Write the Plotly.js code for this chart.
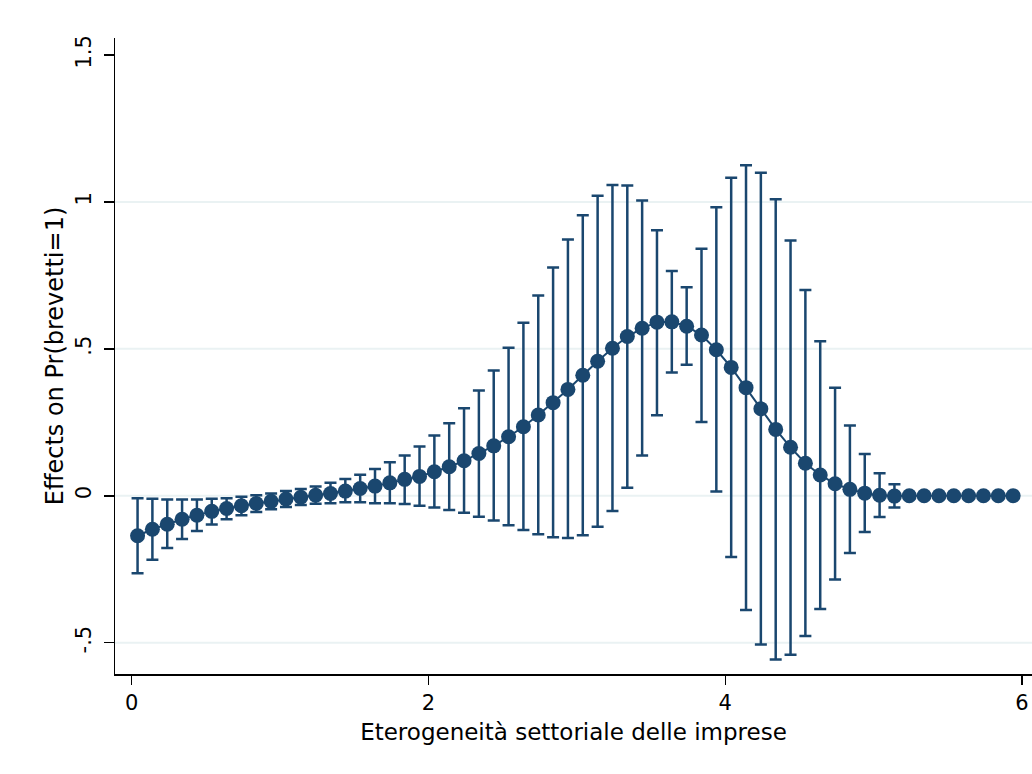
<!DOCTYPE html>
<html>
<head>
<meta charset="utf-8">
<script src="https://cdn.plot.ly/plotly-3.0.1.min.js"></script>
<style>html,body{margin:0;padding:0;background:#fff;}#chart{width:1032px;height:774px;}</style>
</head>
<body>
<div id="chart"></div>
<script>
// x positions (Eterogeneità settoriale delle imprese)
const xVals = [0.04,0.14,0.24,0.34,0.44,0.54,0.64,0.74,0.84,0.94,
               1.04,1.14,1.24,1.34,1.44,1.54,1.64,1.74,1.84,1.94,
               2.04,2.14,2.24,2.34,2.44,2.54,2.64,2.74,2.84,2.94,
               3.04,3.14,3.24,3.34,3.44,3.54,3.64,3.74,3.84,3.94,
               4.04,4.14,4.24,4.34,4.44,4.54,4.64,4.74,4.84,4.94,
               5.04,5.14,5.24,5.34,5.44,5.54,5.64,5.74,5.84,5.94];
// point estimates: Effects on Pr(brevetti=1)
const effects = [-0.136,-0.114,-0.097,-0.080,-0.066,-0.053,-0.043,-0.034,-0.026,-0.019,
                 -0.011,-0.005,0.002,0.008,0.016,0.025,0.033,0.044,0.056,0.066,
                 0.082,0.099,0.119,0.144,0.170,0.201,0.235,0.275,0.317,0.362,
                 0.410,0.458,0.502,0.542,0.570,0.591,0.592,0.577,0.547,0.497,
                 0.437,0.368,0.296,0.226,0.165,0.111,0.071,0.041,0.022,0.009,
                 0.002,-0.001,0.000,0.000,0.000,0.000,0.000,0.000,0.000,0.000];
// confidence interval bounds
const ciLow = [-0.264,-0.218,-0.178,-0.147,-0.120,-0.098,-0.080,-0.066,-0.055,-0.046,
               -0.038,-0.031,-0.027,-0.025,-0.022,-0.022,-0.025,-0.025,-0.028,-0.034,
               -0.040,-0.048,-0.058,-0.071,-0.084,-0.100,-0.116,-0.131,-0.141,-0.144,
               -0.134,-0.105,-0.052,0.027,0.137,0.274,0.420,0.446,0.251,0.015,
               -0.208,-0.389,-0.506,-0.557,-0.541,-0.477,-0.385,-0.285,-0.195,-0.123,
               -0.072,-0.040,-0.008,0.000,0.000,0.000,0.000,0.000,0.000,0.000];
const ciHigh = [-0.008,-0.010,-0.013,-0.013,-0.013,-0.010,-0.008,-0.003,0.002,0.008,
                0.016,0.023,0.032,0.044,0.057,0.072,0.091,0.114,0.137,0.168,
                0.205,0.247,0.298,0.358,0.426,0.504,0.589,0.682,0.777,0.872,
                0.955,1.021,1.058,1.056,1.005,0.904,0.765,0.710,0.841,0.982,
                1.082,1.125,1.099,1.009,0.869,0.700,0.526,0.368,0.239,0.142,
                0.077,0.039,0.008,0.000,0.000,0.000,0.000,0.000,0.000,0.000];
// axis ticks
const xTickVals = [0, 2, 4, 6];
const xTickText = ['0', '2', '4', '6'];
const yTickVals = [-0.5, 0, 0.5, 1, 1.5];
const yTickText = ['-.5', '0', '.5', '1', '1.5'];
const yGridVals = [-0.5, 0, 0.5, 1];

const navy = '#1a476f';
const FONT = 'DejaVu Sans, Liberation Sans, Arial, sans-serif';

const trace = {
  type: 'scatter',
  mode: 'lines+markers',
  x: xVals,
  y: effects,
  line: {color: navy, width: 2},
  marker: {color: navy, size: 15},
  error_y: {
    type: 'data',
    symmetric: false,
    array: effects.map((v, i) => ciHigh[i] - v),
    arrayminus: effects.map((v, i) => v - ciLow[i]),
    color: navy,
    thickness: 2.5,
    width: 6
  },
  cliponaxis: false,
  hoverinfo: 'x+y'
};

const shapes = yGridVals.map(g => ({
  type: 'line', xref: 'paper', x0: 0, x1: 1, yref: 'y', y0: g, y1: g,
  line: {color: '#eaf2f3', width: 2}, layer: 'below'
}));

const layout = {
  width: 1032,
  height: 774,
  margin: {l: 115, r: 0, t: 38, b: 100, pad: 0},
  paper_bgcolor: '#ffffff',
  plot_bgcolor: '#ffffff',
  showlegend: false,
  font: {family: FONT, color: '#000'},
  shapes: shapes,
  xaxis: {
    range: [-0.112, 6.067],
    tickvals: xTickVals,
    ticktext: xTickText,
    ticks: 'outside',
    ticklen: 9,
    tickwidth: 1.5,
    tickcolor: '#000',
    showline: true,
    linecolor: '#000',
    linewidth: 1.5,
    showgrid: false,
    zeroline: false,
    tickfont: {family: FONT, size: 21, color: '#000'},
    title: {text: 'Eterogeneità settoriale delle imprese', font: {family: FONT, size: 23, color: '#000'}, standoff: 10}
  },
  yaxis: {
    range: [-0.6065, 1.558],
    tickvals: yTickVals,
    ticktext: yTickText,
    tickangle: -90,
    ticks: 'outside',
    ticklen: 10,
    tickwidth: 1.5,
    tickcolor: '#000',
    showline: true,
    linecolor: '#000',
    linewidth: 1.5,
    showgrid: false,
    zeroline: false,
    ticklabelstandoff: 4,
    tickfont: {family: FONT, size: 21, color: '#000'},
    title: {text: 'Effects on Pr(brevetti=1)', font: {family: FONT, size: 24, color: '#000'}, standoff: 1}
  }
};

Plotly.newPlot('chart', [trace], layout, {displayModeBar: false, staticPlot: true});
</script>
</body>
</html>
